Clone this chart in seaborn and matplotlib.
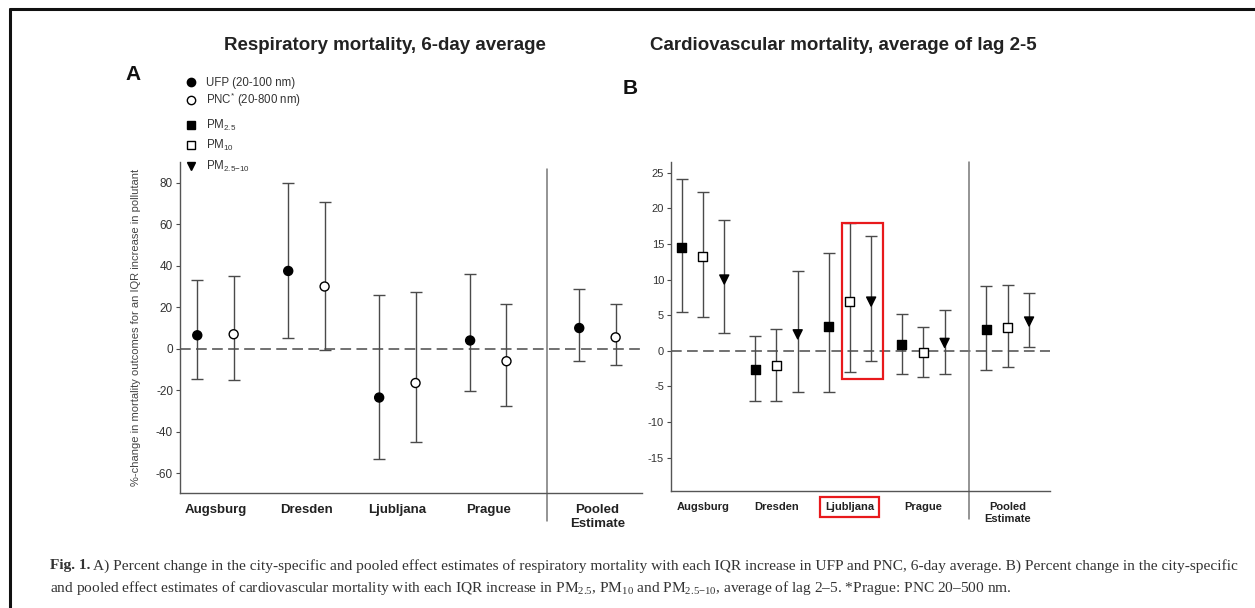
import matplotlib
matplotlib.use("Agg")
import matplotlib.pyplot as plt
from matplotlib.lines import Line2D
from matplotlib.patches import Rectangle
import numpy as np
import pandas as pd
import seaborn as sns

# ---- data -------------------------------------------------------------
cities = ["Augsburg", "Dresden", "Ljubljana", "Prague", "Pooled\nEstimate"]

# Panel A: respiratory mortality, 6-day average (% change, 95% CI)
ufp_est = [6.5, 37.5, -23.5, 4.0, 10.0]
ufp_lo = [-14.5, 5.0, -53.0, -20.5, -6.0]
ufp_hi = [33.0, 80.0, 26.0, 36.0, 29.0]

pnc_est = [7.0, 30.0, -16.5, -6.0, 5.5]
pnc_lo = [-15.0, -0.5, -45.0, -27.5, -8.0]
pnc_hi = [35.0, 70.5, 27.5, 21.5, 21.5]

# Panel B: cardiovascular mortality, average of lag 2-5
pm25_est = [14.5, -2.6, 3.4, 0.9, 3.0]
pm25_lo = [5.5, -7.0, -5.8, -3.3, -2.7]
pm25_hi = [24.1, 2.1, 13.7, 5.2, 9.1]

pm10_est = [13.2, -2.1, 6.9, -0.3, 3.2]
pm10_lo = [4.8, -7.1, -3.0, -3.7, -2.3]
pm10_hi = [22.3, 3.1, 17.9, 3.3, 9.2]

pmc_est = [10.0, 2.3, 6.9, 1.1, 4.1]
pmc_lo = [2.5, -5.8, -1.5, -3.2, 0.5]
pmc_hi = [18.3, 11.2, 16.1, 5.7, 8.1]

ticks_a = [-60, -40, -20, 0, 20, 40, 60, 80]
ticks_b = [-15, -10, -5, 0, 5, 10, 15, 20, 25]

# ---- style ------------------------------------------------------------
sns.set_style("ticks")
plt.rcParams["font.family"] = ["Liberation Sans", "DejaVu Sans"]
plt.rcParams["mathtext.fontset"] = "custom"
plt.rcParams["mathtext.rm"] = "Liberation Sans"
plt.rcParams["mathtext.default"] = "regular"
plt.rcParams["axes.unicode_minus"] = False

W, H = 1255, 608
fig = plt.figure(figsize=(W / 100, H / 100), dpi=100)

def fx(px):
    return px / W

def fy(py):
    return 1 - py / H

GREY = "#4a4a4a"

ax_a = fig.add_axes([fx(180), fy(493), fx(642 - 180), (493 - 162) / H])
ax_b = fig.add_axes([fx(671), fy(491), fx(1050 - 671), (491 - 162) / H])


def panel(ax, series, pooled_gap, offsets, sep_top, xfont, yfont):
    centers = np.array([1, 2, 3, 4, 4 + pooled_gap])
    rows = []
    for (name, est, lo, hi, face, marker), off in zip(series, offsets):
        xs = centers + off
        est = np.asarray(est)
        ax.errorbar(xs, est, yerr=[est - np.asarray(lo), np.asarray(hi) - est],
                    fmt="none", ecolor=GREY, elinewidth=1.0, capsize=4.5,
                    capthick=1.0, zorder=2)
        for x, v in zip(xs, est):
            rows.append({"x": x, "y": v, "series": name})
    df = pd.DataFrame(rows)
    names = [s[0] for s in series]
    sns.scatterplot(data=df, x="x", y="y", hue="series", style="series",
                    hue_order=names, style_order=names,
                    palette={s[0]: s[4] for s in series},
                    markers={s[0]: s[5] for s in series},
                    s=42, edgecolor="black", linewidth=1.0,
                    legend=False, ax=ax, zorder=3)
    ax.axhline(0, color=GREY, lw=1.1, ls=(0, (7, 3.5)), zorder=1)
    sep = 4 + pooled_gap * 0.54
    ax.plot([sep, sep], [sep_top, -0.085], color="#777777", lw=1.1,
            transform=ax.get_xaxis_transform(), clip_on=False, zorder=1)
    ax.set_xticks(centers)
    ax.set_xticklabels(cities, fontsize=xfont, fontweight="bold",
                       color="#222222", linespacing=1.2)
    ax.tick_params(axis="x", length=0, pad=8)
    ax.tick_params(axis="y", length=3, width=0.8, color=GREY,
                   labelsize=yfont, labelcolor="#333333", pad=2)
    ax.set_xlabel("")
    ax.set_ylabel("")
    for side in ("top", "right"):
        ax.spines[side].set_visible(False)
    for side in ("left", "bottom"):
        ax.spines[side].set_color("#555555")
        ax.spines[side].set_linewidth(1.0)
    return centers


series_a = [
    ("UFP", ufp_est, ufp_lo, ufp_hi, "black", "o"),
    ("PNC", pnc_est, pnc_lo, pnc_hi, "white", "o"),
]
series_b = [
    ("PM2.5", pm25_est, pm25_lo, pm25_hi, "black", "s"),
    ("PM10", pm10_est, pm10_lo, pm10_hi, "white", "s"),
    ("PM2.5-10", pmc_est, pmc_lo, pmc_hi, "black", "v"),
]

centers_a = panel(ax_a, series_a, 1.2, [-0.2, 0.2], 0.98, 9.5, 8.5)
ax_a.set_ylim(-69.5, 90)
ax_a.set_xlim(0.61, 5.69)
ax_a.set_yticks(ticks_a)

centers_b = panel(ax_b, series_b, 1.15, [-0.29, 0.0, 0.29], 1.0, 8.0, 8.0)
ax_b.set_ylim(-19.7, 26.5)
ax_b.set_xlim(0.565, 5.725)
ax_b.set_yticks(ticks_b)

ax_a.set_ylabel("%-change in mortality outcomes for an IQR increase in pollutant",
                fontsize=8.0, color="#444444", labelpad=11)

# highlight around Ljubljana PM10 / PM2.5-10
lj = centers_b[2]
ax_b.add_patch(Rectangle((lj - 0.11, -4.0), 0.555, 22.0, fill=False,
                         edgecolor="#e8191c", lw=1.6, clip_on=False, zorder=5))
lab = ax_b.get_xticklabels()[2]
lab.set_bbox(dict(facecolor="none", edgecolor="#e8191c", lw=1.6,
                  boxstyle="square,pad=0.45"))

# titles and panel letters
fig.text(fx(385), fy(45), "Respiratory mortality, 6-day average",
         ha="center", va="center", fontsize=13.5, fontweight="bold",
         color="#222222")
fig.text(fx(843), fy(45), "Cardiovascular mortality, average of lag 2-5",
         ha="center", va="center", fontsize=13.5, fontweight="bold",
         color="#222222")
fig.text(fx(133), fy(75), "A", ha="center", va="center", fontsize=15,
         fontweight="bold", color="#111111")
fig.text(fx(630), fy(88), "B", ha="center", va="center", fontsize=15,
         fontweight="bold", color="#111111")

# legends
def handle(marker, face):
    return Line2D([], [], ls="none", marker=marker, markersize=6,
                  markerfacecolor=face, markeredgecolor="black",
                  markeredgewidth=1.0)

leg1 = fig.legend([handle("o", "black"), handle("o", "white")],
                  ["UFP (20-100 nm)", "PNC$^{*}$ (20-800 nm)"],
                  loc="upper left", bbox_to_anchor=(fx(185), fy(77)),
                  frameon=False, fontsize=8.3, handlelength=1.0,
                  handletextpad=0.8, borderpad=0, borderaxespad=0,
                  labelspacing=0.12, labelcolor="#333333")
leg2 = fig.legend([handle("s", "black"), handle("s", "white"),
                   handle("v", "black")],
                  ["PM$_{2.5}$", "PM$_{10}$", "PM$_{2.5{-}10}$"],
                  loc="upper left", bbox_to_anchor=(fx(185), fy(118)),
                  frameon=False, fontsize=8.3, handlelength=1.0,
                  handletextpad=0.8, borderpad=0, borderaxespad=0,
                  labelspacing=0.45, labelcolor="#333333")

# caption
serif = ["Liberation Serif", "DejaVu Serif"]
cap_kw = dict(fontsize=11.1, family=serif, color="#333333", va="center")
fig.canvas.draw()
renderer = fig.canvas.get_renderer()
head = fig.text(fx(50), fy(566), "Fig. 1.", fontweight="bold", ha="left", **cap_kw)
bb = head.get_window_extent(renderer)
fig.text((bb.x1 + 3) / W, fy(566),
         "A) Percent change in the city-specific and pooled effect estimates "
         "of respiratory mortality with each IQR increase in UFP and PNC, 6-day average. "
         "B) Percent change in the city-specific", ha="left", **cap_kw)
fig.text(fx(50), fy(588),
         "and pooled effect estimates of cardiovascular mortality with each IQR increase in "
         "PM$_{2.5}$, PM$_{10}$ and PM$_{2.5{-}10}$, average of lag 2\u20135. "
         "*Prague: PNC 20\u2013500 nm.", ha="left", **cap_kw)

# frame edges of the figure page
fig.add_artist(Line2D([fx(10), 1], [fy(9), fy(9)], color="#111111", lw=2.2))
fig.add_artist(Line2D([fx(10), fx(10)], [fy(9), 0], color="#111111", lw=2.2))

fig.savefig("out.png", dpi=100, facecolor="white")
